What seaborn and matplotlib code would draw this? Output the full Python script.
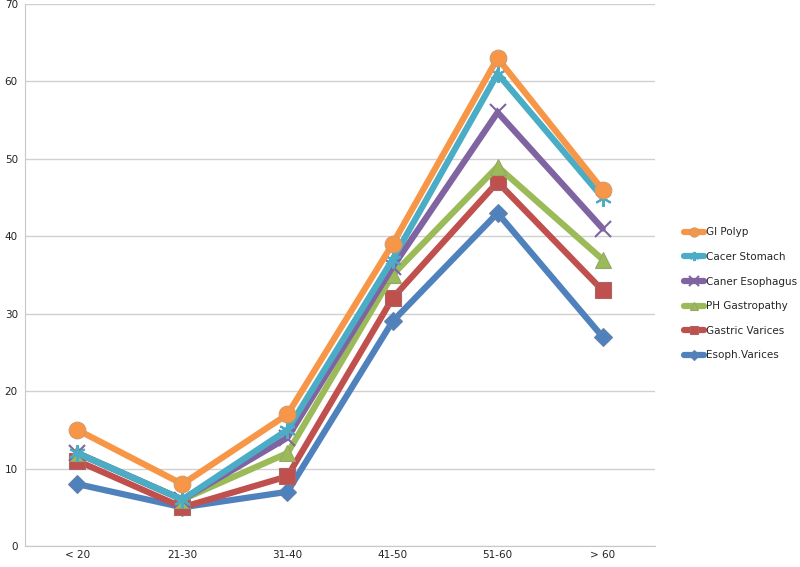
import pandas as pd
import numpy as np
import seaborn as sns
import matplotlib.pyplot as plt

age_groups = ['< 20', '21-30', '31-40', '41-50', '51-60', '> 60']

# drawing order: bottom series first, GI Polyp ends up on top
series_names = ['Esoph.Varices', 'Gastric Varices', 'PH Gastropathy',
                'Caner Esophagus', 'Cacer Stomach', 'GI Polyp']
esoph_varices = [8, 5, 7, 29, 43, 27]
gastric_varices = [11, 5, 9, 32, 47, 33]
ph_gastropathy = [12, 6, 12, 35, 49, 37]
caner_esophagus = [12, 6, 14, 36, 56, 41]
cacer_stomach = [12, 6, 15, 37, 61, 45]
gi_polyp = [15, 8, 17, 39, 63, 46]

colors = {'GI Polyp': '#F79646', 'Cacer Stomach': '#4BACC6',
          'Caner Esophagus': '#8064A2', 'PH Gastropathy': '#9BBB59',
          'Gastric Varices': '#C0504D', 'Esoph.Varices': '#4F81BD'}
markers = {'GI Polyp': 'o', 'Cacer Stomach': (6, 2, 0),
           'Caner Esophagus': 'x', 'PH Gastropathy': '^',
           'Gastric Varices': 's', 'Esoph.Varices': 'D'}
msizes = {'GI Polyp': 12, 'Cacer Stomach': 12, 'Caner Esophagus': 12,
          'PH Gastropathy': 11, 'Gastric Varices': 11, 'Esoph.Varices': 9}

values = [esoph_varices, gastric_varices, ph_gastropathy,
          caner_esophagus, cacer_stomach, gi_polyp]
rows = []
for name, vals in zip(series_names, values):
    for g, v in zip(age_groups, vals):
        rows.append({'age': g, 'count': v, 'series': name})
df = pd.DataFrame(rows)

sns.set_style('white')
fig = plt.figure(figsize=(8, 5.67), dpi=100)
ax = fig.add_axes([0.031, 0.037, 0.788, 0.956])

sns.lineplot(data=df, x='age', y='count', hue='series', hue_order=series_names,
             palette=colors, sort=False, legend=False, ax=ax, linewidth=4.5)

for line, name in zip(ax.lines, series_names):
    c = colors[name]
    line.set_marker(markers[name])
    line.set_markersize(msizes[name])
    line.set_solid_joinstyle('miter')
    if name in ('Caner Esophagus', 'Cacer Stomach'):
        line.set_markeredgecolor(c)
        line.set_markeredgewidth(1.5)
    else:
        line.set_markerfacecolor(c)
        line.set_markeredgecolor(sns.desaturate(c, 0.6))
        line.set_markeredgewidth(0.8)

ax.set_ylim(0, 70)
ax.set_xlim(-0.5, 5.5)
ax.set_yticks(np.arange(0, 71, 10))
ax.yaxis.grid(True, color='#d0d0d0', linewidth=1)
ax.set_axisbelow(True)
ax.set_xlabel('')
ax.set_ylabel('')
for s in ['top', 'right']:
    ax.spines[s].set_visible(False)
for s in ['left', 'bottom']:
    ax.spines[s].set_color('#c8c8c8')
ax.set_xticks(np.arange(-0.5, 6, 1), minor=True)
ax.tick_params(axis='x', which='major', length=0, labelsize=7.5,
               colors='#222222', pad=3)
ax.tick_params(axis='x', which='minor', length=4, color='#c8c8c8')
ax.tick_params(axis='y', length=3, labelsize=7.5, labelcolor='#222222',
               color='#c8c8c8', pad=2)

handles = list(ax.lines)[::-1]
labels = series_names[::-1]
fig.legend(handles, labels, loc='upper left', bbox_to_anchor=(0.848, 0.608),
           frameon=False, fontsize=7.5, handlelength=2.0, markerscale=0.55,
           labelspacing=1.4, handletextpad=0.15, borderpad=0)

fig.savefig('out.png', dpi=100)
